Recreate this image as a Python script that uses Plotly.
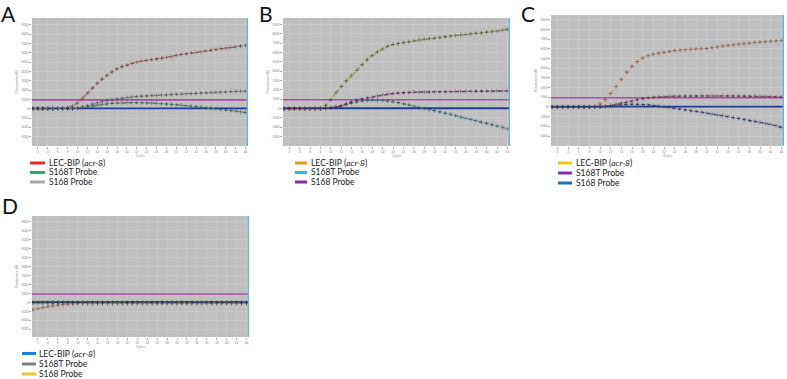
import plotly.graph_objects as go

cycles = list(range(1, 45))

# y values in thousands of fluorescence units (dR)
a_lec = [0.02, 0.02, 0.01, 0.02, 0.02, 0.03, 0.05, 0.12, 0.3, 0.62, 1.1, 1.65, 2.2, 2.75, 3.2, 3.6, 3.98, 4.3, 4.52, 4.7,
         4.87, 5.02, 5.12, 5.2, 5.28, 5.35, 5.42, 5.5, 5.62, 5.74, 5.84, 5.92, 5.98, 6.04, 6.12, 6.2, 6.3, 6.38, 6.46, 6.53,
         6.59, 6.65, 6.73, 6.8]
a_s168t = [0.02, 0.02, 0.02, 0.02, 0.02, 0.02, 0.02, 0.02, 0.02, 0.06, 0.12, 0.2, 0.3, 0.4, 0.48, 0.54, 0.58, 0.61, 0.63, 0.65,
           0.66, 0.66, 0.65, 0.63, 0.61, 0.58, 0.55, 0.52, 0.48, 0.43, 0.38, 0.33, 0.28, 0.23, 0.18, 0.12, 0.06, 0.0, -0.06, -0.12,
           -0.19, -0.26, -0.33, -0.4]
a_s168 = [0.02, 0.02, 0.02, 0.02, 0.02, 0.02, 0.02, 0.02, 0.02, 0.08, 0.2, 0.35, 0.5, 0.65, 0.78, 0.88, 0.97, 1.05, 1.12, 1.2,
          1.27, 1.32, 1.35, 1.38, 1.41, 1.44, 1.47, 1.5, 1.53, 1.56, 1.59, 1.62, 1.64, 1.66, 1.69, 1.72, 1.75, 1.78, 1.8, 1.82,
          1.85, 1.87, 1.88, 1.89]

b_lec = [0.0, 0.0, 0.0, 0.0, 0.0, 0.0, 0.0, 0.03, 0.35, 0.95, 1.7, 2.35, 3.0, 3.55, 4.1, 4.7, 5.25, 5.7, 6.1, 6.4,
         6.7, 6.87, 6.97, 7.07, 7.15, 7.25, 7.35, 7.43, 7.5, 7.57, 7.63, 7.7, 7.77, 7.83, 7.88, 7.94, 8.0, 8.05, 8.1, 8.16,
         8.22, 8.28, 8.38, 8.48]
b_s168t = [0.0, 0.0, 0.0, 0.0, 0.0, 0.0, 0.0, 0.0, 0.03, 0.1, 0.18, 0.3, 0.44, 0.58, 0.72, 0.82, 0.87, 0.9, 0.9, 0.87,
           0.82, 0.74, 0.64, 0.52, 0.4, 0.27, 0.13, 0.02, -0.08, -0.2, -0.34, -0.48, -0.6, -0.75, -0.9, -1.03, -1.15, -1.3, -1.45, -1.58,
           -1.71, -1.86, -2.0, -2.18]
b_s168 = [0.0, 0.0, 0.0, 0.0, 0.0, 0.0, 0.0, 0.0, 0.03, 0.08, 0.17, 0.3, 0.52, 0.75, 0.92, 1.04, 1.13, 1.24, 1.37, 1.48,
          1.57, 1.62, 1.66, 1.7, 1.74, 1.76, 1.77, 1.78, 1.79, 1.8, 1.81, 1.82, 1.83, 1.84, 1.85, 1.86, 1.86, 1.87, 1.87, 1.88,
          1.88, 1.89, 1.89, 1.9]

c_lec = [0.0, 0.0, 0.0, 0.0, 0.0, 0.0, 0.0, 0.0, 0.05, 0.3, 0.75, 1.4, 2.1, 2.85, 3.6, 4.2, 4.7, 5.05, 5.3, 5.45,
         5.55, 5.65, 5.74, 5.83, 5.88, 5.92, 5.96, 6.0, 6.02, 6.04, 6.12, 6.21, 6.29, 6.36, 6.42, 6.48, 6.53, 6.59, 6.65, 6.7,
         6.75, 6.79, 6.83, 6.87]
c_s168t = [0.0, 0.0, 0.0, 0.0, 0.0, 0.0, 0.0, 0.0, 0.0, 0.0, 0.06, 0.15, 0.27, 0.4, 0.52, 0.65, 0.77, 0.87, 0.95, 1.0,
           1.04, 1.07, 1.1, 1.11, 1.12, 1.13, 1.14, 1.14, 1.14, 1.14, 1.14, 1.14, 1.14, 1.14, 1.13, 1.13, 1.12, 1.12, 1.11, 1.1,
           1.09, 1.07, 1.05, 1.03]
c_s168 = [0.0, 0.0, 0.0, 0.0, 0.0, 0.0, 0.0, 0.0, 0.0, 0.0, 0.06, 0.12, 0.18, 0.22, 0.26, 0.28, 0.28, 0.26, 0.22, 0.16,
          0.09, 0.02, -0.05, -0.13, -0.21, -0.29, -0.37, -0.45, -0.54, -0.63, -0.72, -0.81, -0.9, -0.99, -1.08, -1.17, -1.27, -1.37, -1.47, -1.58,
          -1.69, -1.81, -1.93, -2.1]

d_lec = [0.03, 0.03, 0.03, 0.03, 0.03, 0.03, 0.03, 0.03, 0.03, 0.03, 0.03, 0.03, 0.03, 0.03, 0.03, 0.03, 0.03, 0.03, 0.03, 0.03,
         0.03, 0.03, 0.03, 0.03, 0.03, 0.03, 0.03, 0.03, 0.03, 0.03, 0.03, 0.03, 0.03, 0.03, 0.03, 0.03, 0.03, 0.03, 0.03, 0.03,
         0.03, 0.03, 0.03, 0.03]
d_s168t = [-0.04, -0.04, -0.04, -0.04, -0.04, -0.04, -0.04, -0.04, -0.04, -0.04, -0.04, -0.04, -0.04, -0.04, -0.04, -0.04, -0.04, -0.04, -0.04, -0.04,
           -0.04, -0.04, -0.04, -0.04, -0.04, -0.04, -0.04, -0.04, -0.04, -0.04, -0.04, -0.04, -0.04, -0.04, -0.04, -0.04, -0.04, -0.04, -0.04, -0.04,
           -0.04, -0.04, -0.04, -0.04]
d_s168 = [-0.8, -0.68, -0.56, -0.45, -0.36, -0.28, -0.22, -0.17, -0.14, -0.12, -0.11, -0.1, -0.1, -0.1, -0.1, -0.1, -0.1, -0.1, -0.1, -0.1,
          -0.1, -0.1, -0.1, -0.1, -0.1, -0.1, -0.1, -0.1, -0.1, -0.1, -0.1, -0.1, -0.1, -0.1, -0.1, -0.1, -0.1, -0.1, -0.1, -0.1,
          -0.1, -0.1, -0.1, -0.1]

threshold = 0.95
baseline = 0.04

y_tickvals = list(range(-3, 10))
y_ticktext = [str(v * 1000) for v in y_tickvals]
x_tickvals = list(range(2, 45, 2))

legend_labels = ["LEC-BIP (<i>acr-8</i>)", "S168T Probe", "S168 Probe"]

W, H = 787, 379

def px_x(p):
    return p / W

def px_y(p):
    return 1 - p / H

panels = [
    dict(letter="A", ax="", dom=(32, 248, 18, 146), yr=[-4.0, 9.75],
         series=[a_lec, a_s168t, a_s168], pcol=["#c25a55", "#3e9c6c", "#8c8c8c"],
         lcol=["#e8282a", "#1fb070", "#a8a8a8"], leg=(30, 45, 47, [163, 172.5, 182]),
         lpos=(-1, 14)),
    dict(letter="B", ax="2", dom=(283, 510, 18, 146), yr=[-4.0, 9.7],
         series=[b_lec, b_s168t, b_s168], pcol=["#8e9a2a", "#2f9aae", "#8a2a8a"],
         lcol=["#e09a1e", "#2cb8e0", "#7a30a8"], leg=(295, 307, 309, [163, 172.5, 182]),
         lpos=(257, 13)),
    dict(letter="C", ax="3", dom=(551, 784, 15, 146), yr=[-4.03, 9.5],
         series=[c_lec, c_s168t, c_s168], pcol=["#f2a070", "#a04068", "#404a92"],
         lcol=["#f8c21e", "#8432b2", "#1e70c0"], leg=(558, 572, 574, [163, 173, 183]),
         lpos=(519, 14)),
    dict(letter="D", ax="4", dom=(32, 249, 216, 337), yr=[-3.85, 9.66],
         series=[d_lec, d_s168t, d_s168], pcol=["#2050a0", "#5a5a6a", "#eaa070"],
         lcol=["#1f80d0", "#7f7f7f", "#f0c030"], leg=(22, 36, 37, [353.5, 364, 374]),
         lpos=(0, 205)),
]

fig = go.Figure()
shapes = []
annotations = []
layout_axes = {}

for p in panels:
    sfx = p["ax"]
    xa = "x" + sfx
    ya = "y" + sfx
    l, r, t, b = p["dom"]
    y0, y1 = p["yr"]
    fig.add_trace(go.Scatter(x=[0.8, 44.5], y=[threshold, threshold], xaxis=xa, yaxis=ya, mode="lines",
                             line=dict(color="#a8509e", width=1.6), showlegend=False, hoverinfo="skip"))
    fig.add_trace(go.Scatter(x=[0.8, 44.5], y=[baseline, baseline], xaxis=xa, yaxis=ya, mode="lines",
                             line=dict(color="#1e3c9a", width=1.8), showlegend=False, hoverinfo="skip"))
    for vals, col in zip(p["series"], p["pcol"]):
        fig.add_trace(go.Scatter(
            x=cycles, y=vals, xaxis=xa, yaxis=ya, mode="lines+markers",
            line=dict(color=col, width=1.4, dash="dot"),
            marker=dict(symbol="cross-thin", size=3, color=col,
                        line=dict(color="rgba(50,50,50,0.55)", width=0.8)),
            showlegend=False, hoverinfo="skip"))
    fig.add_trace(go.Scatter(x=[44.5, 44.5], y=[y0, y1], xaxis=xa, yaxis=ya, mode="lines",
                             line=dict(color="#5cb6e6", width=2.5), showlegend=False, hoverinfo="skip",
                             cliponaxis=False))
    layout_axes["xaxis" + sfx] = dict(
        domain=[px_x(l), px_x(r)], anchor=ya, range=[0.8, 44.5],
        tickvals=x_tickvals, ticktext=[str(v) for v in x_tickvals],
        tickfont=dict(size=3, color="#888"), ticks="outside", ticklen=2, tickcolor="#aaa",
        showgrid=True, gridcolor="#d0d0d0", gridwidth=0.6, zeroline=False,
        title=dict(text="Cycles", font=dict(size=3, color="#888"), standoff=2),
        showline=False, fixedrange=True)
    layout_axes["yaxis" + sfx] = dict(
        domain=[px_y(b), px_y(t)], anchor=xa, range=p["yr"],
        tickvals=y_tickvals, ticktext=y_ticktext,
        tickfont=dict(size=3, color="#888"), ticks="outside", ticklen=2, tickcolor="#aaa",
        showgrid=True, gridcolor="#d0d0d0", gridwidth=0.6, zeroline=False,
        title=dict(text="Fluorescence (dR)", font=dict(size=3, color="#888"), standoff=2),
        showline=False, fixedrange=True)
    lx0, lx1, tx, rows = p["leg"]
    for lab, col, ry in zip(legend_labels, p["lcol"], rows):
        shapes.append(dict(type="line", xref="paper", yref="paper", x0=px_x(lx0), x1=px_x(lx1),
                           y0=px_y(ry), y1=px_y(ry), line=dict(color=col, width=3)))
        annotations.append(dict(text=lab, xref="paper", yref="paper", x=px_x(tx), y=px_y(ry),
                                xanchor="left", yanchor="middle", showarrow=False,
                                font=dict(family="Lato", size=8.5, color="#222")))
    annotations.append(dict(text=p["letter"], xref="paper", yref="paper", x=px_x(p["lpos"][0]),
                            y=px_y(p["lpos"][1]), xanchor="left", yanchor="middle", showarrow=False,
                            font=dict(family="Lato", size=21, color="#111")))

fig.update_layout(
    width=W, height=H, margin=dict(l=0, r=0, t=0, b=0),
    paper_bgcolor="white", plot_bgcolor="#bfbfbf",
    shapes=shapes, annotations=annotations, showlegend=False,
    font=dict(family="Lato"),
    **layout_axes)

fig.write_html("out.html", config={"displayModeBar": False, "staticPlot": True},
               post_script="document.body.style.margin='0';document.body.style.overflow='hidden';")
